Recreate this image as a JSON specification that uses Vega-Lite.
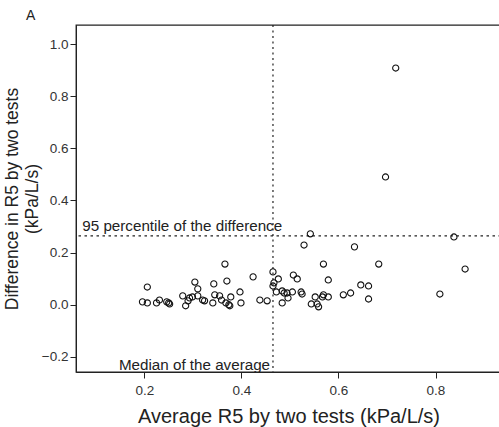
{
  "$schema": "https://vega.github.io/schema/vega-lite/v6.json",
  "autosize": "none",
  "padding": {"left": 76, "top": 25, "right": 0, "bottom": 55},
  "width": 425,
  "height": 347,
  "config": {
    "font": "Liberation Sans",
    "view": {"stroke": "#222", "strokeWidth": 1.3},
    "axis": {"grid": false, "domainColor": "#222", "tickColor": "#222", "labelColor": "#333", "titleColor": "#222", "labelFontSize": 13.5, "titleFontWeight": "normal", "tickSize": 6, "labelFont": "Liberation Sans", "titleFont": "Liberation Sans"}
  },
  "datasets": {
    "one": [{}],
    "pts": [
      {"avg": 0.196, "diff": 0.011}, {"avg": 0.206, "diff": 0.068}, {"avg": 0.206, "diff": 0.007},
      {"avg": 0.225, "diff": 0.007}, {"avg": 0.231, "diff": 0.018}, {"avg": 0.246, "diff": 0.011},
      {"avg": 0.250, "diff": 0.007}, {"avg": 0.252, "diff": 0.003}, {"avg": 0.279, "diff": 0.034},
      {"avg": 0.285, "diff": -0.004}, {"avg": 0.290, "diff": 0.015}, {"avg": 0.293, "diff": 0.026},
      {"avg": 0.299, "diff": 0.030}, {"avg": 0.304, "diff": 0.087}, {"avg": 0.310, "diff": 0.061},
      {"avg": 0.310, "diff": 0.034}, {"avg": 0.320, "diff": 0.018}, {"avg": 0.324, "diff": 0.015},
      {"avg": 0.341, "diff": 0.007}, {"avg": 0.343, "diff": 0.080}, {"avg": 0.345, "diff": 0.038},
      {"avg": 0.355, "diff": 0.034}, {"avg": 0.359, "diff": 0.018}, {"avg": 0.366, "diff": 0.156},
      {"avg": 0.370, "diff": 0.091}, {"avg": 0.368, "diff": 0.007}, {"avg": 0.374, "diff": 0.000},
      {"avg": 0.376, "diff": -0.004}, {"avg": 0.378, "diff": 0.030}, {"avg": 0.397, "diff": 0.049},
      {"avg": 0.399, "diff": 0.007}, {"avg": 0.424, "diff": 0.107}, {"avg": 0.438, "diff": 0.018},
      {"avg": 0.453, "diff": 0.015}, {"avg": 0.465, "diff": 0.126}, {"avg": 0.476, "diff": 0.099},
      {"avg": 0.467, "diff": 0.084}, {"avg": 0.465, "diff": 0.072}, {"avg": 0.472, "diff": 0.049},
      {"avg": 0.484, "diff": 0.053}, {"avg": 0.488, "diff": 0.045}, {"avg": 0.494, "diff": 0.045},
      {"avg": 0.505, "diff": 0.049}, {"avg": 0.496, "diff": 0.026}, {"avg": 0.484, "diff": 0.007},
      {"avg": 0.507, "diff": 0.114}, {"avg": 0.515, "diff": 0.099}, {"avg": 0.523, "diff": 0.049},
      {"avg": 0.525, "diff": 0.041}, {"avg": 0.529, "diff": 0.229}, {"avg": 0.542, "diff": 0.272},
      {"avg": 0.544, "diff": 0.003}, {"avg": 0.552, "diff": 0.030}, {"avg": 0.556, "diff": 0.003},
      {"avg": 0.559, "diff": -0.008}, {"avg": 0.569, "diff": 0.156}, {"avg": 0.569, "diff": 0.038},
      {"avg": 0.567, "diff": 0.030}, {"avg": 0.579, "diff": 0.095}, {"avg": 0.579, "diff": 0.030},
      {"avg": 0.610, "diff": 0.038}, {"avg": 0.625, "diff": 0.045}, {"avg": 0.633, "diff": 0.222},
      {"avg": 0.646, "diff": 0.076}, {"avg": 0.662, "diff": 0.072}, {"avg": 0.662, "diff": 0.022},
      {"avg": 0.683, "diff": 0.156}, {"avg": 0.697, "diff": 0.490}, {"avg": 0.718, "diff": 0.908},
      {"avg": 0.809, "diff": 0.041}, {"avg": 0.838, "diff": 0.260}, {"avg": 0.861, "diff": 0.137}
    ]
  },
  "layer": [
    {
      "data": {"name": "one"},
      "mark": {"type": "rule", "strokeDash": [2, 3.5], "color": "#222", "strokeWidth": 1.2},
      "encoding": {"x": {"datum": 0.465, "type": "quantitative"}}
    },
    {
      "data": {"name": "one"},
      "mark": {"type": "rule", "strokeDash": [2.5, 3.5], "color": "#222", "strokeWidth": 1.2},
      "encoding": {"y": {"datum": 0.264, "type": "quantitative"}}
    },
    {
      "data": {"name": "pts"},
      "mark": {"type": "point", "shape": "circle", "filled": false, "size": 38, "stroke": "#111", "strokeWidth": 1.1, "opacity": 1},
      "encoding": {
        "x": {"field": "avg", "type": "quantitative",
          "scale": {"domain": [0.059, 0.935], "nice": false, "zero": false},
          "axis": {"values": [0.2, 0.4, 0.6, 0.8], "format": ".1f", "title": "Average R5 by two tests (kPa/L/s)", "titleFontSize": 20, "titlePadding": 10, "labelPadding": 5}},
        "y": {"field": "diff", "type": "quantitative",
          "scale": {"domain": [-0.258, 1.073], "nice": false, "zero": false},
          "axis": {"values": [-0.2, 0, 0.2, 0.4, 0.6, 0.8, 1.0], "format": ".1f", "title": ["Difference in R5 by two tests", "(kPa/L/s)"], "titleFontSize": 17.5, "titlePadding": 0, "labelPadding": 2, "titleLineHeight": 20}}
      }
    },
    {
      "data": {"name": "one"},
      "mark": {"type": "text", "text": "95 percentile of the difference", "align": "left", "baseline": "alphabetic", "fontSize": 15.2, "color": "#222", "font": "Liberation Sans"},
      "encoding": {"x": {"datum": 0.072, "type": "quantitative"}, "y": {"datum": 0.283, "type": "quantitative"}}
    },
    {
      "data": {"name": "one"},
      "mark": {"type": "text", "text": "Median of the average", "align": "right", "baseline": "alphabetic", "fontSize": 15.2, "color": "#222", "font": "Liberation Sans"},
      "encoding": {"x": {"datum": 0.459, "type": "quantitative"}, "y": {"datum": -0.25, "type": "quantitative"}}
    },
    {
      "data": {"name": "one"},
      "mark": {"type": "text", "text": "A", "align": "left", "baseline": "alphabetic", "fontSize": 14, "color": "#222", "font": "Liberation Sans", "clip": false},
      "encoding": {"x": {"datum": -0.044, "type": "quantitative"}, "y": {"datum": 1.092, "type": "quantitative"}}
    }
  ]
}
